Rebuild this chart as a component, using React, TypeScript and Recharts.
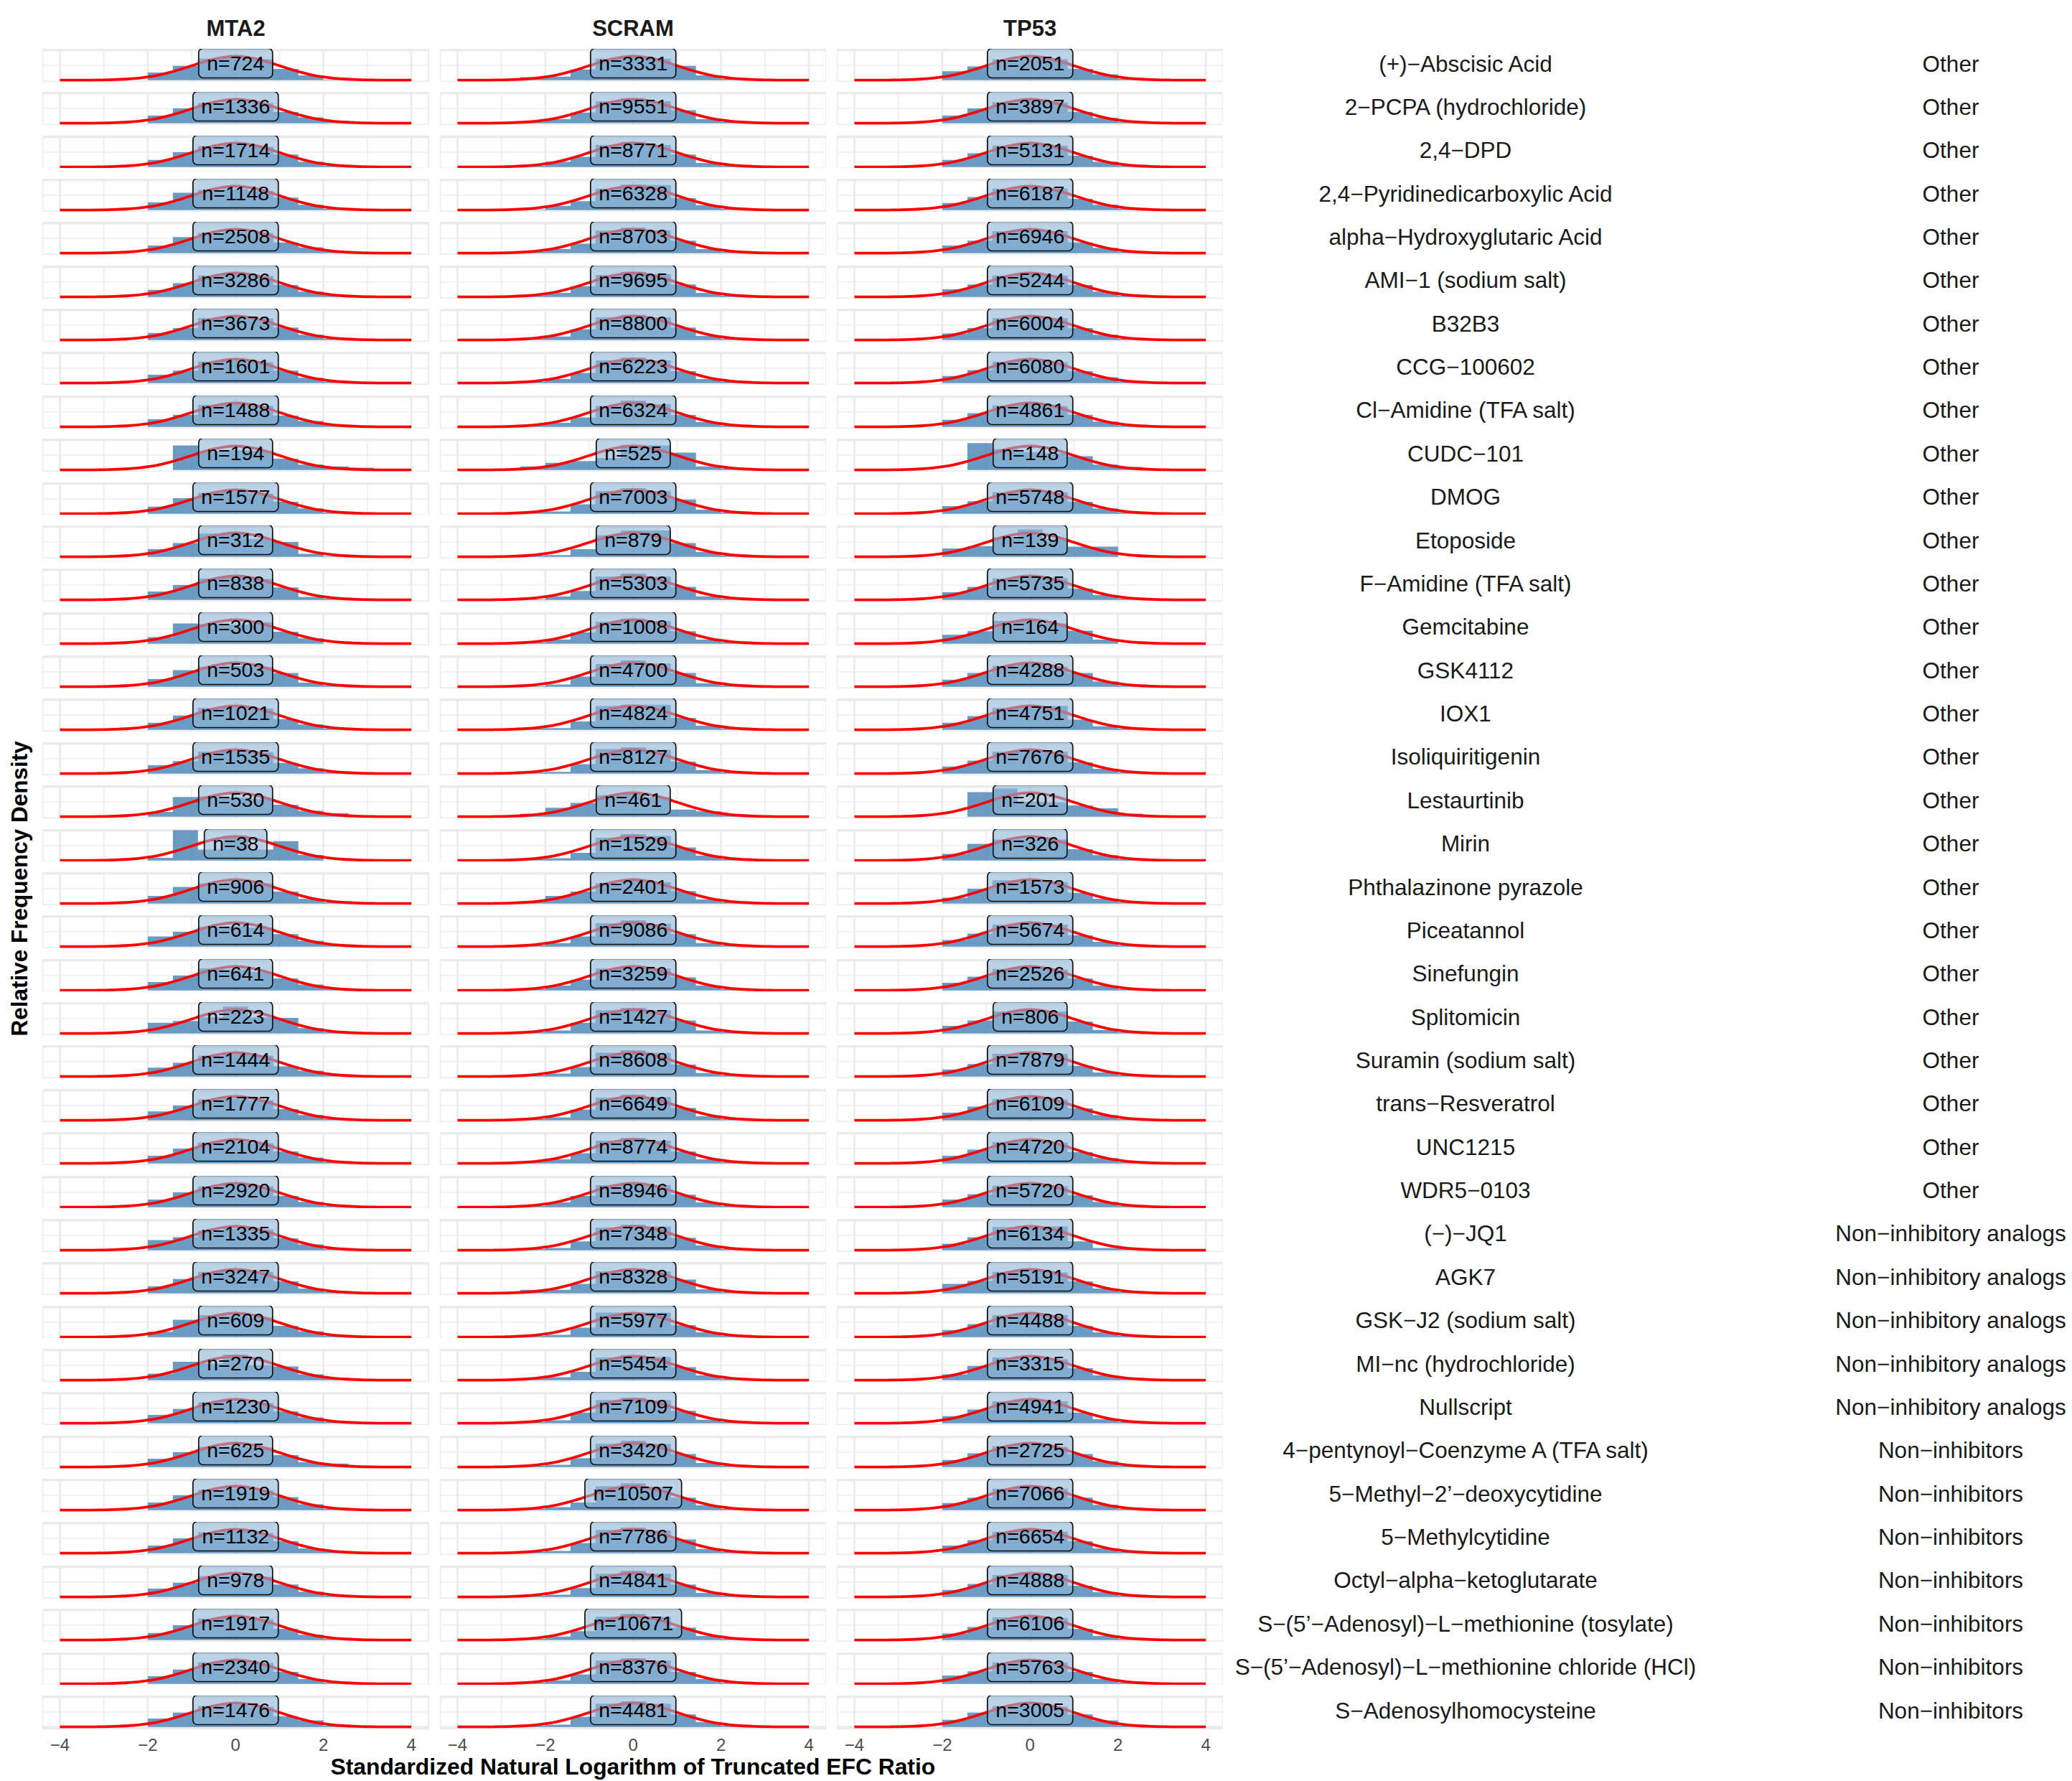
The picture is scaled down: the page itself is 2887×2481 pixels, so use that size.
import React from 'react';
import { ComposedChart, Area, Line, Scatter, XAxis, YAxis, CartesianGrid } from 'recharts';

const GENES = ['MTA2', 'SCRAM', 'TP53'];

const COMPOUNDS = [
  '(+)−Abscisic Acid', '2−PCPA (hydrochloride)', '2,4−DPD', '2,4−Pyridinedicarboxylic Acid',
  'alpha−Hydroxyglutaric Acid', 'AMI−1 (sodium salt)', 'B32B3', 'CCG−100602', 'Cl−Amidine (TFA salt)',
  'CUDC−101', 'DMOG', 'Etoposide', 'F−Amidine (TFA salt)', 'Gemcitabine', 'GSK4112', 'IOX1',
  'Isoliquiritigenin', 'Lestaurtinib', 'Mirin', 'Phthalazinone pyrazole', 'Piceatannol', 'Sinefungin',
  'Splitomicin', 'Suramin (sodium salt)', 'trans−Resveratrol', 'UNC1215', 'WDR5−0103', '(−)−JQ1', 'AGK7',
  'GSK−J2 (sodium salt)', 'MI−nc (hydrochloride)', 'Nullscript', '4−pentynoyl−Coenzyme A (TFA salt)',
  '5−Methyl−2’−deoxycytidine', '5−Methylcytidine', 'Octyl−alpha−ketoglutarate',
  'S−(5’−Adenosyl)−L−methionine (tosylate)', 'S−(5’−Adenosyl)−L−methionine chloride (HCl)',
  'S−Adenosylhomocysteine',
];

const CATEGORIES = [
  'Other', 'Other', 'Other', 'Other', 'Other', 'Other', 'Other', 'Other', 'Other', 'Other', 'Other', 'Other',
  'Other', 'Other', 'Other', 'Other', 'Other', 'Other', 'Other', 'Other', 'Other', 'Other', 'Other', 'Other',
  'Other', 'Other', 'Other',
  'Non−inhibitory analogs', 'Non−inhibitory analogs', 'Non−inhibitory analogs', 'Non−inhibitory analogs',
  'Non−inhibitory analogs',
  'Non−inhibitors', 'Non−inhibitors', 'Non−inhibitors', 'Non−inhibitors', 'Non−inhibitors', 'Non−inhibitors',
  'Non−inhibitors',
];

const N_MTA2 = [724, 1336, 1714, 1148, 2508, 3286, 3673, 1601, 1488, 194, 1577, 312, 838, 300, 503, 1021, 1535, 530, 38, 906, 614, 641, 223, 1444, 1777, 2104, 2920, 1335, 3247, 609, 270, 1230, 625, 1919, 1132, 978, 1917, 2340, 1476];
const N_SCRAM = [3331, 9551, 8771, 6328, 8703, 9695, 8800, 6223, 6324, 525, 7003, 879, 5303, 1008, 4700, 4824, 8127, 461, 1529, 2401, 9086, 3259, 1427, 8608, 6649, 8774, 8946, 7348, 8328, 5977, 5454, 7109, 3420, 10507, 7786, 4841, 10671, 8376, 4481];
const N_TP53 = [2051, 3897, 5131, 6187, 6946, 5244, 6004, 6080, 4861, 148, 5748, 139, 5735, 164, 4288, 4751, 7676, 201, 326, 1573, 5674, 2526, 806, 7879, 6109, 4720, 5720, 6134, 5191, 4488, 3315, 4941, 2725, 7066, 6654, 4888, 6106, 5763, 3005];

// histogram bin edges (bin width 4/7); bin k spans BIN_EDGES[k]..BIN_EDGES[k+1]
const BIN_EDGES = [-3.1429, -2.5714, -2.0, -1.4286, -0.8571, -0.2857, 0.2857, 0.8571, 1.4286, 2.0, 2.5714, 3.1429];

// densities per bin (bins centred at -2.857 ... 2.857)
const HIST_MTA2 = [
  [0, 0, 0.13, 0.24, 0.36, 0.38, 0.35, 0.19, 0.08, 0.01, 0],
  [0, 0, 0.13, 0.25, 0.34, 0.36, 0.34, 0.19, 0.10, 0.04, 0],
  [0, 0, 0.12, 0.25, 0.35, 0.37, 0.34, 0.21, 0.09, 0.02, 0],
  [0, 0, 0.13, 0.29, 0.34, 0.35, 0.32, 0.21, 0.09, 0.02, 0],
  [0, 0, 0.13, 0.27, 0.34, 0.36, 0.34, 0.18, 0.10, 0.03, 0],
  [0, 0, 0.12, 0.23, 0.36, 0.37, 0.35, 0.20, 0.09, 0.03, 0],
  [0, 0, 0.12, 0.20, 0.37, 0.38, 0.36, 0.21, 0.09, 0.02, 0],
  [0, 0, 0.14, 0.21, 0.36, 0.37, 0.35, 0.21, 0.09, 0.02, 0],
  [0, 0, 0.13, 0.20, 0.37, 0.38, 0.35, 0.19, 0.10, 0.03, 0],
  [0, 0, 0, 0.41, 0.31, 0.33, 0.32, 0.19, 0.09, 0.06, 0.04],
  [0, 0, 0.12, 0.26, 0.35, 0.37, 0.34, 0.20, 0.09, 0.02, 0],
  [0, 0, 0.13, 0.23, 0.39, 0.39, 0.30, 0.25, 0.05, 0.01, 0],
  [0, 0, 0.14, 0.25, 0.36, 0.37, 0.35, 0.21, 0.05, 0.02, 0],
  [0, 0, 0.11, 0.34, 0.33, 0.32, 0.36, 0.20, 0.09, 0, 0],
  [0, 0, 0.13, 0.28, 0.34, 0.35, 0.33, 0.23, 0.07, 0.02, 0],
  [0, 0, 0.12, 0.24, 0.37, 0.37, 0.36, 0.18, 0.09, 0.02, 0],
  [0, 0, 0.14, 0.21, 0.37, 0.38, 0.36, 0.18, 0.09, 0.02, 0],
  [0, 0, 0.08, 0.33, 0.34, 0.32, 0.30, 0.20, 0.10, 0.06, 0.02],
  [0, 0, 0.046, 0.507, 0.184, 0.415, 0.184, 0.323, 0.092, 0, 0],
  [0, 0, 0.13, 0.28, 0.34, 0.36, 0.34, 0.20, 0.08, 0.02, 0],
  [0, 0, 0.17, 0.25, 0.33, 0.34, 0.32, 0.21, 0.10, 0.03, 0],
  [0, 0, 0.14, 0.25, 0.37, 0.35, 0.31, 0.20, 0.10, 0.03, 0],
  [0, 0, 0.18, 0.21, 0.27, 0.45, 0.27, 0.26, 0.09, 0.02, 0],
  [0, 0, 0.15, 0.23, 0.35, 0.37, 0.35, 0.17, 0.10, 0.03, 0],
  [0, 0, 0.15, 0.25, 0.35, 0.36, 0.34, 0.19, 0.09, 0.02, 0],
  [0, 0, 0.13, 0.25, 0.35, 0.36, 0.34, 0.20, 0.10, 0.02, 0],
  [0, 0, 0.13, 0.25, 0.35, 0.37, 0.35, 0.19, 0.09, 0.02, 0],
  [0, 0, 0.17, 0.22, 0.33, 0.36, 0.35, 0.20, 0.10, 0.02, 0],
  [0, 0, 0.12, 0.24, 0.36, 0.37, 0.36, 0.20, 0.08, 0.02, 0],
  [0, 0, 0.09, 0.29, 0.37, 0.36, 0.33, 0.19, 0.10, 0.02, 0],
  [0, 0, 0.11, 0.31, 0.28, 0.43, 0.25, 0.23, 0.10, 0.04, 0],
  [0, 0, 0.14, 0.24, 0.35, 0.36, 0.34, 0.20, 0.10, 0.02, 0],
  [0, 0, 0.14, 0.25, 0.34, 0.35, 0.33, 0.20, 0.08, 0.06, 0],
  [0, 0, 0.13, 0.25, 0.34, 0.36, 0.33, 0.22, 0.10, 0.02, 0],
  [0, 0, 0.13, 0.25, 0.35, 0.37, 0.34, 0.20, 0.08, 0.03, 0],
  [0, 0, 0.14, 0.24, 0.35, 0.36, 0.34, 0.21, 0.09, 0.02, 0],
  [0, 0, 0.12, 0.25, 0.36, 0.37, 0.35, 0.19, 0.09, 0.02, 0],
  [0, 0, 0.13, 0.24, 0.36, 0.37, 0.35, 0.20, 0.08, 0.02, 0],
  [0, 0, 0.14, 0.24, 0.35, 0.37, 0.34, 0.18, 0.11, 0.02, 0],
];

const HIST_SCRAM = [
  [0, 0.05, 0.06, 0.18, 0.36, 0.40, 0.36, 0.24, 0.08, 0.02, 0],
  [0, 0.03, 0.07, 0.18, 0.37, 0.42, 0.37, 0.22, 0.07, 0.02, 0],
  [0.01, 0.02, 0.09, 0.17, 0.37, 0.42, 0.37, 0.21, 0.07, 0.02, 0],
  [0.01, 0.01, 0.07, 0.15, 0.36, 0.43, 0.42, 0.20, 0.08, 0.02, 0],
  [0, 0.03, 0.07, 0.16, 0.38, 0.43, 0.38, 0.21, 0.07, 0.02, 0],
  [0, 0.03, 0.07, 0.18, 0.37, 0.42, 0.38, 0.21, 0.07, 0.02, 0],
  [0, 0.03, 0.06, 0.18, 0.38, 0.42, 0.38, 0.21, 0.07, 0.02, 0],
  [0.01, 0.02, 0.07, 0.17, 0.38, 0.43, 0.38, 0.20, 0.07, 0.02, 0],
  [0.02, 0.03, 0.07, 0.16, 0.35, 0.44, 0.38, 0.20, 0.08, 0.02, 0],
  [0.02, 0.06, 0.12, 0.15, 0.20, 0.42, 0.41, 0.29, 0.06, 0.02, 0],
  [0, 0.03, 0.04, 0.16, 0.38, 0.43, 0.38, 0.24, 0.07, 0.02, 0],
  [0, 0.02, 0.03, 0.13, 0.36, 0.44, 0.44, 0.23, 0.08, 0.02, 0],
  [0.01, 0.01, 0.06, 0.15, 0.39, 0.44, 0.39, 0.22, 0.06, 0.02, 0],
  [0, 0.02, 0.07, 0.19, 0.37, 0.42, 0.38, 0.21, 0.07, 0.02, 0],
  [0.01, 0.01, 0.04, 0.17, 0.38, 0.44, 0.39, 0.23, 0.06, 0.02, 0],
  [0.01, 0.03, 0.03, 0.14, 0.40, 0.42, 0.42, 0.20, 0.07, 0.02, 0],
  [0.01, 0.02, 0.03, 0.16, 0.41, 0.44, 0.40, 0.20, 0.06, 0.02, 0],
  [0, 0.05, 0.15, 0.23, 0.36, 0.38, 0.33, 0.12, 0.09, 0.04, 0],
  [0, 0.03, 0.04, 0.13, 0.38, 0.44, 0.41, 0.22, 0.08, 0.02, 0],
  [0, 0.04, 0.13, 0.20, 0.34, 0.38, 0.36, 0.21, 0.07, 0.02, 0],
  [0, 0.02, 0.06, 0.17, 0.39, 0.44, 0.38, 0.21, 0.06, 0.02, 0],
  [0, 0.02, 0.08, 0.18, 0.37, 0.41, 0.37, 0.22, 0.08, 0.02, 0],
  [0, 0.02, 0.05, 0.18, 0.39, 0.43, 0.39, 0.22, 0.05, 0.02, 0],
  [0, 0.02, 0.05, 0.16, 0.40, 0.44, 0.40, 0.20, 0.06, 0.02, 0],
  [0, 0.02, 0.05, 0.18, 0.38, 0.43, 0.39, 0.21, 0.07, 0.02, 0],
  [0, 0.03, 0.07, 0.17, 0.38, 0.43, 0.38, 0.20, 0.07, 0.02, 0],
  [0, 0.02, 0.08, 0.19, 0.37, 0.41, 0.37, 0.21, 0.08, 0.02, 0],
  [0.02, 0.02, 0.04, 0.15, 0.38, 0.43, 0.40, 0.21, 0.08, 0.02, 0],
  [0, 0.06, 0.06, 0.16, 0.37, 0.41, 0.37, 0.23, 0.07, 0.02, 0],
  [0, 0.02, 0.04, 0.16, 0.41, 0.41, 0.41, 0.20, 0.08, 0.02, 0],
  [0.02, 0.03, 0.05, 0.14, 0.38, 0.42, 0.39, 0.22, 0.08, 0.02, 0],
  [0, 0.02, 0.05, 0.18, 0.39, 0.43, 0.39, 0.21, 0.06, 0.02, 0],
  [0.01, 0.02, 0.04, 0.15, 0.39, 0.44, 0.39, 0.22, 0.07, 0.02, 0],
  [0, 0.02, 0.05, 0.13, 0.40, 0.45, 0.39, 0.21, 0.08, 0.02, 0],
  [0, 0.02, 0.04, 0.17, 0.39, 0.43, 0.38, 0.23, 0.07, 0.02, 0],
  [0.02, 0.02, 0.04, 0.15, 0.39, 0.44, 0.39, 0.21, 0.07, 0.02, 0],
  [0, 0.02, 0.06, 0.15, 0.39, 0.44, 0.39, 0.21, 0.07, 0.02, 0],
  [0, 0.02, 0.06, 0.16, 0.39, 0.43, 0.39, 0.20, 0.08, 0.02, 0],
  [0, 0.02, 0.04, 0.17, 0.39, 0.43, 0.39, 0.21, 0.08, 0.02, 0],
];

const HIST_TP53 = [
  [0, 0, 0.15, 0.23, 0.35, 0.36, 0.35, 0.19, 0.10, 0.02, 0],
  [0, 0, 0.13, 0.25, 0.35, 0.37, 0.35, 0.19, 0.09, 0.02, 0],
  [0, 0, 0.12, 0.23, 0.36, 0.38, 0.36, 0.19, 0.09, 0.02, 0],
  [0, 0, 0.12, 0.22, 0.36, 0.38, 0.36, 0.19, 0.09, 0.02, 0],
  [0, 0, 0.13, 0.21, 0.37, 0.38, 0.37, 0.18, 0.09, 0.02, 0],
  [0, 0, 0.13, 0.21, 0.36, 0.38, 0.36, 0.20, 0.09, 0.02, 0],
  [0, 0, 0.11, 0.20, 0.37, 0.39, 0.37, 0.20, 0.09, 0.02, 0],
  [0, 0, 0.12, 0.22, 0.36, 0.38, 0.35, 0.20, 0.10, 0.02, 0],
  [0, 0, 0.12, 0.23, 0.36, 0.38, 0.35, 0.20, 0.09, 0.02, 0],
  [0, 0, 0, 0.45, 0.35, 0.30, 0.28, 0.23, 0.09, 0.05, 0],
  [0, 0, 0.13, 0.21, 0.36, 0.38, 0.36, 0.20, 0.09, 0.02, 0],
  [0, 0, 0.14, 0.18, 0.33, 0.46, 0.30, 0.17, 0.17, 0, 0],
  [0, 0, 0.13, 0.22, 0.36, 0.38, 0.37, 0.19, 0.08, 0.02, 0],
  [0, 0, 0.15, 0.21, 0.38, 0.38, 0.34, 0.22, 0.07, 0, 0],
  [0, 0, 0.12, 0.23, 0.35, 0.37, 0.34, 0.23, 0.09, 0.02, 0],
  [0, 0, 0.12, 0.23, 0.37, 0.37, 0.40, 0.17, 0.06, 0.02, 0],
  [0, 0, 0.12, 0.22, 0.37, 0.38, 0.37, 0.19, 0.08, 0.02, 0],
  [0, 0, 0, 0.41, 0.47, 0.25, 0.24, 0.19, 0.14, 0.05, 0],
  [0, 0, 0.11, 0.28, 0.35, 0.36, 0.35, 0.19, 0.09, 0.02, 0],
  [0, 0, 0.10, 0.25, 0.39, 0.37, 0.36, 0.18, 0.08, 0.02, 0],
  [0, 0, 0.11, 0.22, 0.37, 0.39, 0.37, 0.19, 0.08, 0.02, 0],
  [0, 0, 0.13, 0.23, 0.36, 0.38, 0.35, 0.20, 0.08, 0.02, 0],
  [0, 0, 0.13, 0.22, 0.37, 0.38, 0.37, 0.20, 0.06, 0.02, 0],
  [0, 0, 0.12, 0.21, 0.38, 0.39, 0.38, 0.18, 0.07, 0.02, 0],
  [0, 0, 0.13, 0.23, 0.36, 0.37, 0.35, 0.20, 0.09, 0.02, 0],
  [0, 0, 0.13, 0.23, 0.36, 0.38, 0.35, 0.19, 0.09, 0.02, 0],
  [0, 0, 0.13, 0.22, 0.36, 0.38, 0.35, 0.20, 0.09, 0.02, 0],
  [0, 0, 0.11, 0.22, 0.39, 0.40, 0.40, 0.15, 0.04, 0.04, 0],
  [0, 0, 0.16, 0.21, 0.36, 0.37, 0.35, 0.20, 0.08, 0.02, 0],
  [0, 0, 0.12, 0.22, 0.37, 0.38, 0.37, 0.19, 0.08, 0.02, 0],
  [0, 0, 0.10, 0.24, 0.38, 0.36, 0.35, 0.20, 0.08, 0.04, 0],
  [0, 0, 0.12, 0.23, 0.37, 0.39, 0.37, 0.18, 0.07, 0.02, 0],
  [0, 0, 0.12, 0.23, 0.35, 0.37, 0.34, 0.22, 0.10, 0.02, 0],
  [0, 0, 0.12, 0.21, 0.36, 0.38, 0.36, 0.21, 0.09, 0.02, 0],
  [0, 0, 0.13, 0.22, 0.36, 0.38, 0.36, 0.20, 0.08, 0.02, 0],
  [0, 0, 0.12, 0.22, 0.37, 0.38, 0.37, 0.19, 0.08, 0.02, 0],
  [0, 0, 0.11, 0.22, 0.38, 0.39, 0.37, 0.19, 0.07, 0.02, 0],
  [0, 0, 0.14, 0.21, 0.36, 0.38, 0.36, 0.20, 0.08, 0.02, 0],
  [0, 0, 0.12, 0.24, 0.35, 0.36, 0.34, 0.21, 0.11, 0.02, 0],
];

// red reference curve, read at steps of 0.25
const CURVE_X = [-4, -3.75, -3.5, -3.25, -3, -2.75, -2.5, -2.25, -2, -1.75, -1.5, -1.25, -1, -0.75, -0.5, -0.25, 0,
  0.25, 0.5, 0.75, 1, 1.25, 1.5, 1.75, 2, 2.25, 2.5, 2.75, 3, 3.25, 3.5, 3.75, 4];
const CURVE_Y = [0.0001, 0.0004, 0.0009, 0.002, 0.0044, 0.0091, 0.0175, 0.0317, 0.054, 0.0863, 0.1295, 0.1826, 0.242,
  0.3011, 0.3521, 0.3867, 0.3989, 0.3867, 0.3521, 0.3011, 0.242, 0.1826, 0.1295, 0.0863, 0.054, 0.0317, 0.0175, 0.0091,
  0.0044, 0.002, 0.0009, 0.0004, 0.0001];

const X_MAJOR = [-4, -2, 0, 2, 4];
const X_MINOR = [-3, -1, 1, 3];
const Y_MAJOR = [0, 0.5];
const Y_MINOR = [0.25];
const X_DOMAIN: [number, number] = [-4.4, 4.4];
const Y_DOMAIN: [number, number] = [-0.025, 0.525];
const LABEL_Y = 0.285;

const HISTS = [HIST_MTA2, HIST_SCRAM, HIST_TP53];
const NS = [N_MTA2, N_SCRAM, N_TP53];

// layout
const FONT = "'Liberation Sans', Arial, Helvetica, sans-serif";
const COL_X = [59.3, 612.7, 1165.8];
const PANEL_W = 538.6;
const PANEL_H = 45.8;
const ROW_TOP0 = 67.9;
const ROW_PITCH = 60.37;
const AXIS_H = 50;
const LABEL_FONT = 28.5;

function buildRows(hist: number[]) {
  const rows: { x: number; hist?: number; dens?: number }[] = [];
  BIN_EDGES.forEach((e, i) => rows.push({ x: e, hist: i < hist.length ? hist[i] : 0 }));
  CURVE_X.forEach((x, i) => rows.push({ x, dens: CURVE_Y[i] }));
  rows.sort((a, b) => a.x - b.x);
  return rows;
}

const fmtTick = (v: number) => (v < 0 ? `−${Math.abs(v)}` : `${v}`);

function NLabel(props: any) {
  const { cx, cy, n } = props;
  if (cx == null || cy == null) return null;
  const digits = String(n).length;
  const tw = (1.14 + 0.556 * digits) * LABEL_FONT;
  const w = tw + 23;
  const h = 41;
  return (
    <g>
      <rect x={cx - w / 2} y={cy - h / 2} width={w} height={h} rx={6} ry={6}
        fill="rgb(146,182,216)" fillOpacity={0.62} stroke="#111" strokeWidth={1.7} />
      <text x={cx} y={cy + 10.3} textAnchor="middle" fontSize={LABEL_FONT} fontFamily={FONT} fill="#000">
        {`n=${n}`}
      </text>
    </g>
  );
}

function Panel({ hist, n, showAxis }: { hist: number[]; n: number; showAxis: boolean }) {
  const data = buildRows(hist);
  return (
    <ComposedChart width={PANEL_W} height={PANEL_H + (showAxis ? AXIS_H : 0)} data={data}
      margin={{ top: 0, right: 0, bottom: 0, left: 0 }}>
      <XAxis xAxisId="minor" type="number" dataKey="x" domain={X_DOMAIN} ticks={X_MINOR} allowDataOverflow hide />
      <YAxis yAxisId="minor" type="number" domain={Y_DOMAIN} ticks={Y_MINOR} allowDataOverflow hide />
      <XAxis type="number" dataKey="x" domain={X_DOMAIN} ticks={X_MAJOR} allowDataOverflow hide={!showAxis}
        height={AXIS_H} axisLine={false} tickLine={false} tickSize={6} tickMargin={8} interval={0}
        tick={{ fontSize: 24, fill: '#4d4d4d', fontFamily: FONT }} tickFormatter={fmtTick} />
      <YAxis type="number" domain={Y_DOMAIN} ticks={Y_MAJOR} allowDataOverflow hide />
      <CartesianGrid xAxisId="minor" yAxisId="minor" stroke="#ebebeb" strokeWidth={1.4} />
      <CartesianGrid stroke="#ebebeb" strokeWidth={2.8} />
      <Area type="stepAfter" dataKey="hist" fill="#4682b4" fillOpacity={0.8} stroke="none" baseValue={0}
        connectNulls dot={false} activeDot={false} isAnimationActive={false} />
      <Line type="monotone" dataKey="dens" stroke="#ff0000" strokeWidth={3.8} dot={false} activeDot={false}
        connectNulls isAnimationActive={false} />
      <Scatter data={[{ x: 0, y: LABEL_Y }]} dataKey="y" isAnimationActive={false}
        shape={(p: any) => <NLabel cx={p.cx} cy={p.cy} n={n} />} />
    </ComposedChart>
  );
}

export default function App() {
  const nRows = COMPOUNDS.length;
  const panels: React.ReactNode[] = [];
  for (let c = 0; c < 3; c++) {
    for (let r = 0; r < nRows; r++) {
      panels.push(
        <div key={`${c}-${r}`} style={{ position: 'absolute', left: COL_X[c], top: ROW_TOP0 + ROW_PITCH * r }}>
          <Panel hist={HISTS[c][r]} n={NS[c][r]} showAxis={r === nRows - 1} />
        </div>
      );
    }
  }
  const panelsLeft = COL_X[0];
  const panelsRight = COL_X[2] + PANEL_W;
  const midX = (panelsLeft + panelsRight) / 2;
  const bottom = ROW_TOP0 + ROW_PITCH * (nRows - 1) + PANEL_H;
  const midY = (ROW_TOP0 + bottom) / 2;
  return (
    <div style={{ position: 'absolute', left: 0, top: 0, width: 2887, height: 2481, background: '#fff', overflow: 'hidden' }}>
      {panels}
      <svg width={2887} height={2481} style={{ position: 'absolute', left: 0, top: 0, pointerEvents: 'none' }}>
        {GENES.map((g, c) => (
          <text key={g} x={COL_X[c] + PANEL_W / 2} y={49.5} textAnchor="middle" fontFamily={FONT}
            fontWeight="bold" fontSize={31} fill="#1a1a1a">{g}</text>
        ))}
        {COMPOUNDS.map((name, r) => (
          <text key={`cp${r}`} x={2042} y={ROW_TOP0 + ROW_PITCH * r + PANEL_H / 2 + 8.7} textAnchor="middle"
            fontFamily={FONT} fontSize={31.5} fill="#1a1a1a">{name}</text>
        ))}
        {CATEGORIES.map((name, r) => (
          <text key={`ct${r}`} x={2718} y={ROW_TOP0 + ROW_PITCH * r + PANEL_H / 2 + 8.7} textAnchor="middle"
            fontFamily={FONT} fontSize={31.5} fill="#1a1a1a">{name}</text>
        ))}
        <text x={midX} y={2472} textAnchor="middle" fontFamily={FONT} fontWeight="bold" fontSize={31.8} fill="#000">
          Standardized Natural Logarithm of Truncated EFC Ratio
        </text>
        <text x={38} y={midY} textAnchor="middle" fontFamily={FONT} fontWeight="bold" fontSize={31.5} fill="#000"
          transform={`rotate(-90, 38, ${midY})`}>
          Relative Frequency Density
        </text>
      </svg>
    </div>
  );
}
